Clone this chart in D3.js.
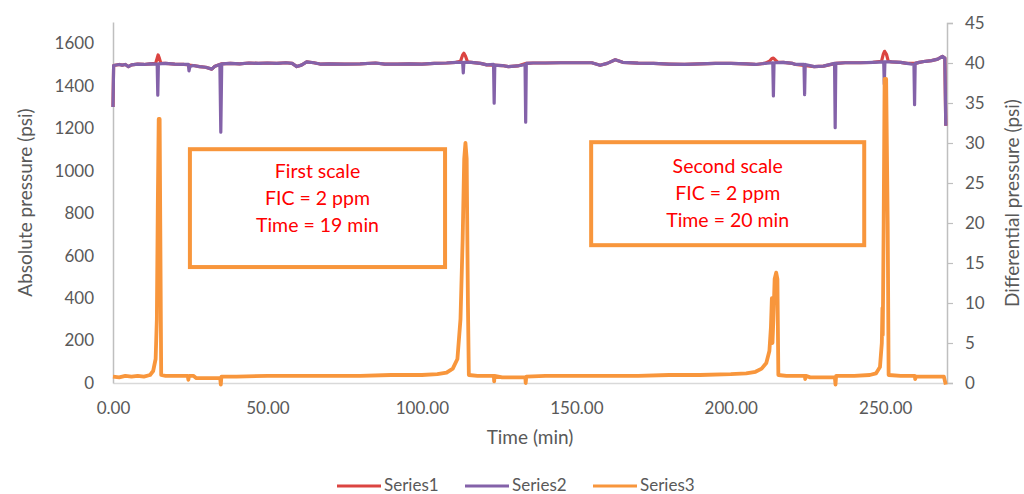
<!DOCTYPE html>
<html>
<head>
<meta charset="utf-8">
<script src="https://cdn.jsdelivr.net/npm/d3@7"></script>
<style>
  html, body { margin: 0; padding: 0; background: #fff; }
  svg { display: block; font-family: Lato, "Open Sans", sans-serif; }
</style>
</head>
<body>
<svg id="chart" width="1024" height="494"></svg>
<script>
// ---------------- DATA ----------------
const xTicks = [0, 50, 100, 150, 200, 250];
const leftTicks = [0, 200, 400, 600, 800, 1000, 1200, 1400, 1600];
const rightTicks = [0, 5, 10, 15, 20, 25, 30, 35, 40, 45];
const seriesNames = ["Series1", "Series2", "Series3"];

// Series2: absolute pressure (psi), [time(min), value]
const series2 = [
  [0,1300],[0.2,1495],[2,1500],[3,1497],[4,1500],[5,1490],[6,1498],[8,1502],[10,1500],[12,1503],
  [14.3,1502],[14.5,1355],[14.7,1503],[17,1505],[20,1502],[23,1500],[24.4,1500],[24.6,1470],[24.9,1490],
  [26,1495],[28,1490],[30,1487],[32,1478],[33,1492],[34.6,1500],[34.9,1181],[35.2,1503],[38,1505],
  [41,1503],[44,1507],[47,1505],[50,1507],[53,1505],[56,1508],[58,1505],[59.5,1490],[61,1497],
  [62.7,1512],[65,1508],[67,1502],[70,1503],[75,1502],[80,1503],[85,1507],[88,1502],[92,1502],
  [96,1503],[100,1502],[104,1505],[108,1507],[111,1510],[113.2,1510],[113.4,1460],[113.6,1510],
  [116,1510],[119,1505],[121,1498],[123.2,1500],[123.4,1318],[123.6,1497],[126,1495],[128,1490],
  [131,1493],[133.4,1500],[133.6,1228],[133.8,1505],[136,1507],[140,1507],[145,1508],[150,1508],
  [155,1508],[157.7,1496],[160,1505],[162.6,1522],[165,1510],[170,1506],[175,1505],[180,1502],
  [185,1500],[190,1503],[195,1505],[200,1505],[205,1503],[208,1500],[211,1505],[213.6,1508],
  [213.8,1352],[214,1508],[217,1510],[220,1505],[221,1500],[223.7,1500],[223.9,1358],[224.1,1500],
  [227,1490],[230,1492],[233.6,1505],[233.8,1202],[234,1505],[237,1508],[242,1508],[246,1510],
  [249.5,1512],[249.7,1407],[249.9,1512],[252,1512],[255,1510],[257,1505],[259.3,1500],[259.5,1311],
  [259.7,1505],[261,1510],[263,1515],[265,1518],[267,1525],[268.5,1538],[269.3,1530],[269.6,1211]
];

// Series1: absolute pressure (psi), [time(min), value]
const series1 = [
  [0,1300],[0.2,1495],[2,1500],[3,1497],[4,1500],[5,1490],[6,1498],[8,1502],[10,1500],[12,1503],
  [13.8,1505],[14.3,1530],[14.6,1545],[15.0,1530],[15.5,1505],[17,1505],[20,1502],[23,1500],
  [26,1495],[28,1490],[30,1487],[32,1478],[33,1492],[35.2,1503],[38,1505],
  [41,1503],[44,1507],[47,1505],[50,1507],[53,1505],[56,1508],[58,1505],[59.5,1490],[61,1497],
  [62.7,1512],[65,1508],[67,1502],[70,1503],[75,1502],[80,1503],[85,1507],[88,1502],[92,1502],
  [96,1503],[100,1502],[104,1505],[108,1507],[111,1510],[112.5,1515],[113.2,1545],[113.6,1553],
  [114.1,1540],[114.8,1512],[116,1510],[119,1505],[121,1498],[126,1495],[128,1490],
  [131,1493],[133.8,1505],[136,1507],[140,1507],[145,1508],[150,1508],
  [155,1508],[157.7,1496],[160,1505],[162.6,1522],[165,1510],[170,1506],[175,1505],[180,1502],
  [185,1500],[190,1503],[195,1505],[200,1505],[205,1503],[208,1500],[211,1505],[212.5,1515],
  [213.3,1528],[213.8,1530],[214.5,1520],[215.3,1510],[217,1510],[220,1505],[221,1500],
  [227,1490],[230,1492],[234,1505],[237,1508],[242,1508],[246,1510],
  [248.8,1515],[249.4,1550],[249.8,1562],[250.4,1548],[251,1515],[252,1512],[255,1510],[257,1505],
  [259.7,1505],[261,1510],[263,1515],[265,1518],[267,1525],[268.5,1538],[269.3,1530],[269.6,1211]
];

// Series3: differential pressure (psi), [time(min), value]
const series3 = [
  [0,0.8],[2,0.7],[4,0.9],[6,0.8],[8,0.9],[10,0.8],[12,1.0],[13,1.5],[13.8,3],[14.2,8],[14.5,22],
  [14.8,33],[15.1,33],[15.3,20],[15.6,1.0],[17,0.9],[20,0.9],[24.2,0.9],[24.4,0.4],[24.6,0.9],
  [26,0.9],[27,0.6],[30,0.6],[34.7,0.6],[34.9,-0.2],[35.1,0.8],[40,0.8],[50,0.9],[60,0.9],
  [70,0.9],[80,0.9],[90,1.0],[100,1.0],[105,1.1],[108,1.3],[110,1.8],[111.5,3],[112.5,8],
  [113.2,18],[113.7,28],[114.1,30],[114.5,28],[114.9,10],[115.2,1.0],[118,0.9],[121,0.9],
  [123.3,0.9],[123.4,0.2],[123.5,0.9],[126,0.7],[130,0.7],[133.5,0.7],[133.6,0.0],[133.8,0.8],
  [140,0.9],[150,0.9],[160,0.9],[170,0.9],[180,1.0],[190,1.0],[200,1.1],[205,1.2],[208,1.4],
  [210,1.8],[211.5,2.5],[212.5,4],[213,7],[213.3,10.6],[213.5,5],[213.8,8],[214.2,13],[214.7,13.8],
  [215.1,13],[215.4,1.0],[218,0.9],[222,0.9],[224,0.9],[224.1,0.5],[224.3,0.9],[225.7,0.7],
  [230,0.7],[233.7,0.7],[233.9,-0.2],[234.1,0.9],[240,0.9],[245,1.0],[247,1.2],[248.3,2],
  [248.9,5],[249.1,9.4],[249.2,6],[249.5,20],[249.8,38],[250.3,38],[250.8,20],[251.1,1.0],
  [255,0.9],[259.6,0.9],[259.7,0.5],[259.9,0.8],[265,0.8],[269,0.8],[269.6,-0.2]
];

// Annotation boxes: [t0, t1, psiTop, psiBottom] on left axis, with their text lines
const boxExtents = [[24.9, 107.5, 1101, 546], [154.8, 243.2, 1134, 649]];
const boxTexts = [
  ["First scale", "FIC = 2 ppm", "Time = 19 min"],
  ["Second scale", "FIC = 2 ppm", "Time = 20 min"]
];

// ---------------- DRAW ----------------
const svg = d3.select("#chart");
const colors = ["#DB4441", "#8462A9", "#F8963C"];
const axisColor = "#BFBFBF";
const textColor = "#595959";

const x = d3.scaleLinear().domain([0, 270]).range([113, 947]);
const yL = d3.scaleLinear().domain([0, 1700]).range([383, 22]);
const yR = d3.scaleLinear().domain([0, 45]).range([383, 23]);

// X axis
const gx = svg.append("g").attr("transform", `translate(0,${yL(0)})`)
  .call(d3.axisBottom(x).tickValues(xTicks).tickFormat(d3.format(".2f")).tickSize(0).tickPadding(19));
gx.select(".domain").attr("stroke", "#D9D9D9").attr("stroke-width", 1.5);
gx.selectAll("text").attr("fill", textColor).attr("font-size", 17).attr("font-family", "Lato");

// Left axis
const gl = svg.append("g").attr("transform", `translate(${x(0)},0)`)
  .call(d3.axisLeft(yL).tickValues(leftTicks).tickFormat(d3.format("d")).tickSize(0).tickPadding(19));
gl.select(".domain").attr("stroke", axisColor).attr("stroke-width", 1.5);
gl.selectAll("text").attr("fill", textColor).attr("font-size", 17).attr("font-family", "Lato");

// Right axis
const gr = svg.append("g").attr("transform", `translate(${x(270)},0)`)
  .call(d3.axisRight(yR).tickValues(rightTicks).tickFormat(d3.format("d")).tickSize(6).tickPadding(12));
gr.select(".domain").attr("stroke", axisColor).attr("stroke-width", 1.5);
gr.selectAll(".tick line").attr("stroke", axisColor).attr("stroke-width", 1.2);
gr.selectAll("text").attr("fill", textColor).attr("font-size", 17).attr("font-family", "Lato");

// Axis titles
svg.append("text").attr("transform", `translate(32,${(yL(0)+yL(1700))/2}) rotate(-90)`)
  .attr("text-anchor", "middle").attr("fill", textColor).attr("font-size", 19)
  .text("Absolute pressure (psi)");
svg.append("text").attr("transform", `translate(1019,${(yR(0)+yR(45))/2}) rotate(-90)`)
  .attr("text-anchor", "middle").attr("fill", textColor).attr("font-size", 19)
  .text("Differential pressure (psi)");
svg.append("text").attr("x", (x(0)+x(270))/2).attr("y", 444)
  .attr("text-anchor", "middle").attr("fill", textColor).attr("font-size", 19)
  .text("Time (min)");

// Lines
const lineL = d3.line().x(d => x(d[0])).y(d => yL(d[1]));
const lineR = d3.line().x(d => x(d[0])).y(d => yR(d[1]));

svg.append("path").datum(series1).attr("d", lineL)
  .attr("fill", "none").attr("stroke", colors[0]).attr("stroke-width", 3.2).attr("stroke-linejoin", "round");
svg.append("path").datum(series2).attr("d", lineL)
  .attr("fill", "none").attr("stroke", colors[1]).attr("stroke-width", 3.2).attr("stroke-linejoin", "round");
svg.append("path").datum(series3).attr("d", lineR)
  .attr("fill", "none").attr("stroke", colors[2]).attr("stroke-width", 3.8).attr("stroke-linejoin", "round");

// Annotation boxes
boxExtents.forEach((b, i) => {
  const x0 = x(b[0]), x1 = x(b[1]), y0 = yL(b[2]), y1 = yL(b[3]);
  svg.append("rect").attr("x", x0).attr("y", y0).attr("width", x1 - x0).attr("height", y1 - y0)
    .attr("fill", "#fff").attr("stroke", colors[2]).attr("stroke-width", 4);
  const cx = (x0 + x1) / 2;
  const firstY = i === 0 ? y0 + 29 : y0 + 31;
  boxTexts[i].forEach((t, j) => {
    svg.append("text").attr("x", cx).attr("y", firstY + j * 27)
      .attr("text-anchor", "middle").attr("fill", "#FF0000").attr("font-size", 19.5)
      .text(t);
  });
});

// Legend
const legendX = [337, 465, 593];
seriesNames.forEach((n, i) => {
  svg.append("line").attr("x1", legendX[i]).attr("x2", legendX[i] + 44)
    .attr("y1", 486).attr("y2", 486).attr("stroke", colors[i]).attr("stroke-width", 3);
  svg.append("text").attr("x", legendX[i] + 47).attr("y", 491)
    .attr("fill", textColor).attr("font-size", 17).text(n);
});
</script>
</body>
</html>
